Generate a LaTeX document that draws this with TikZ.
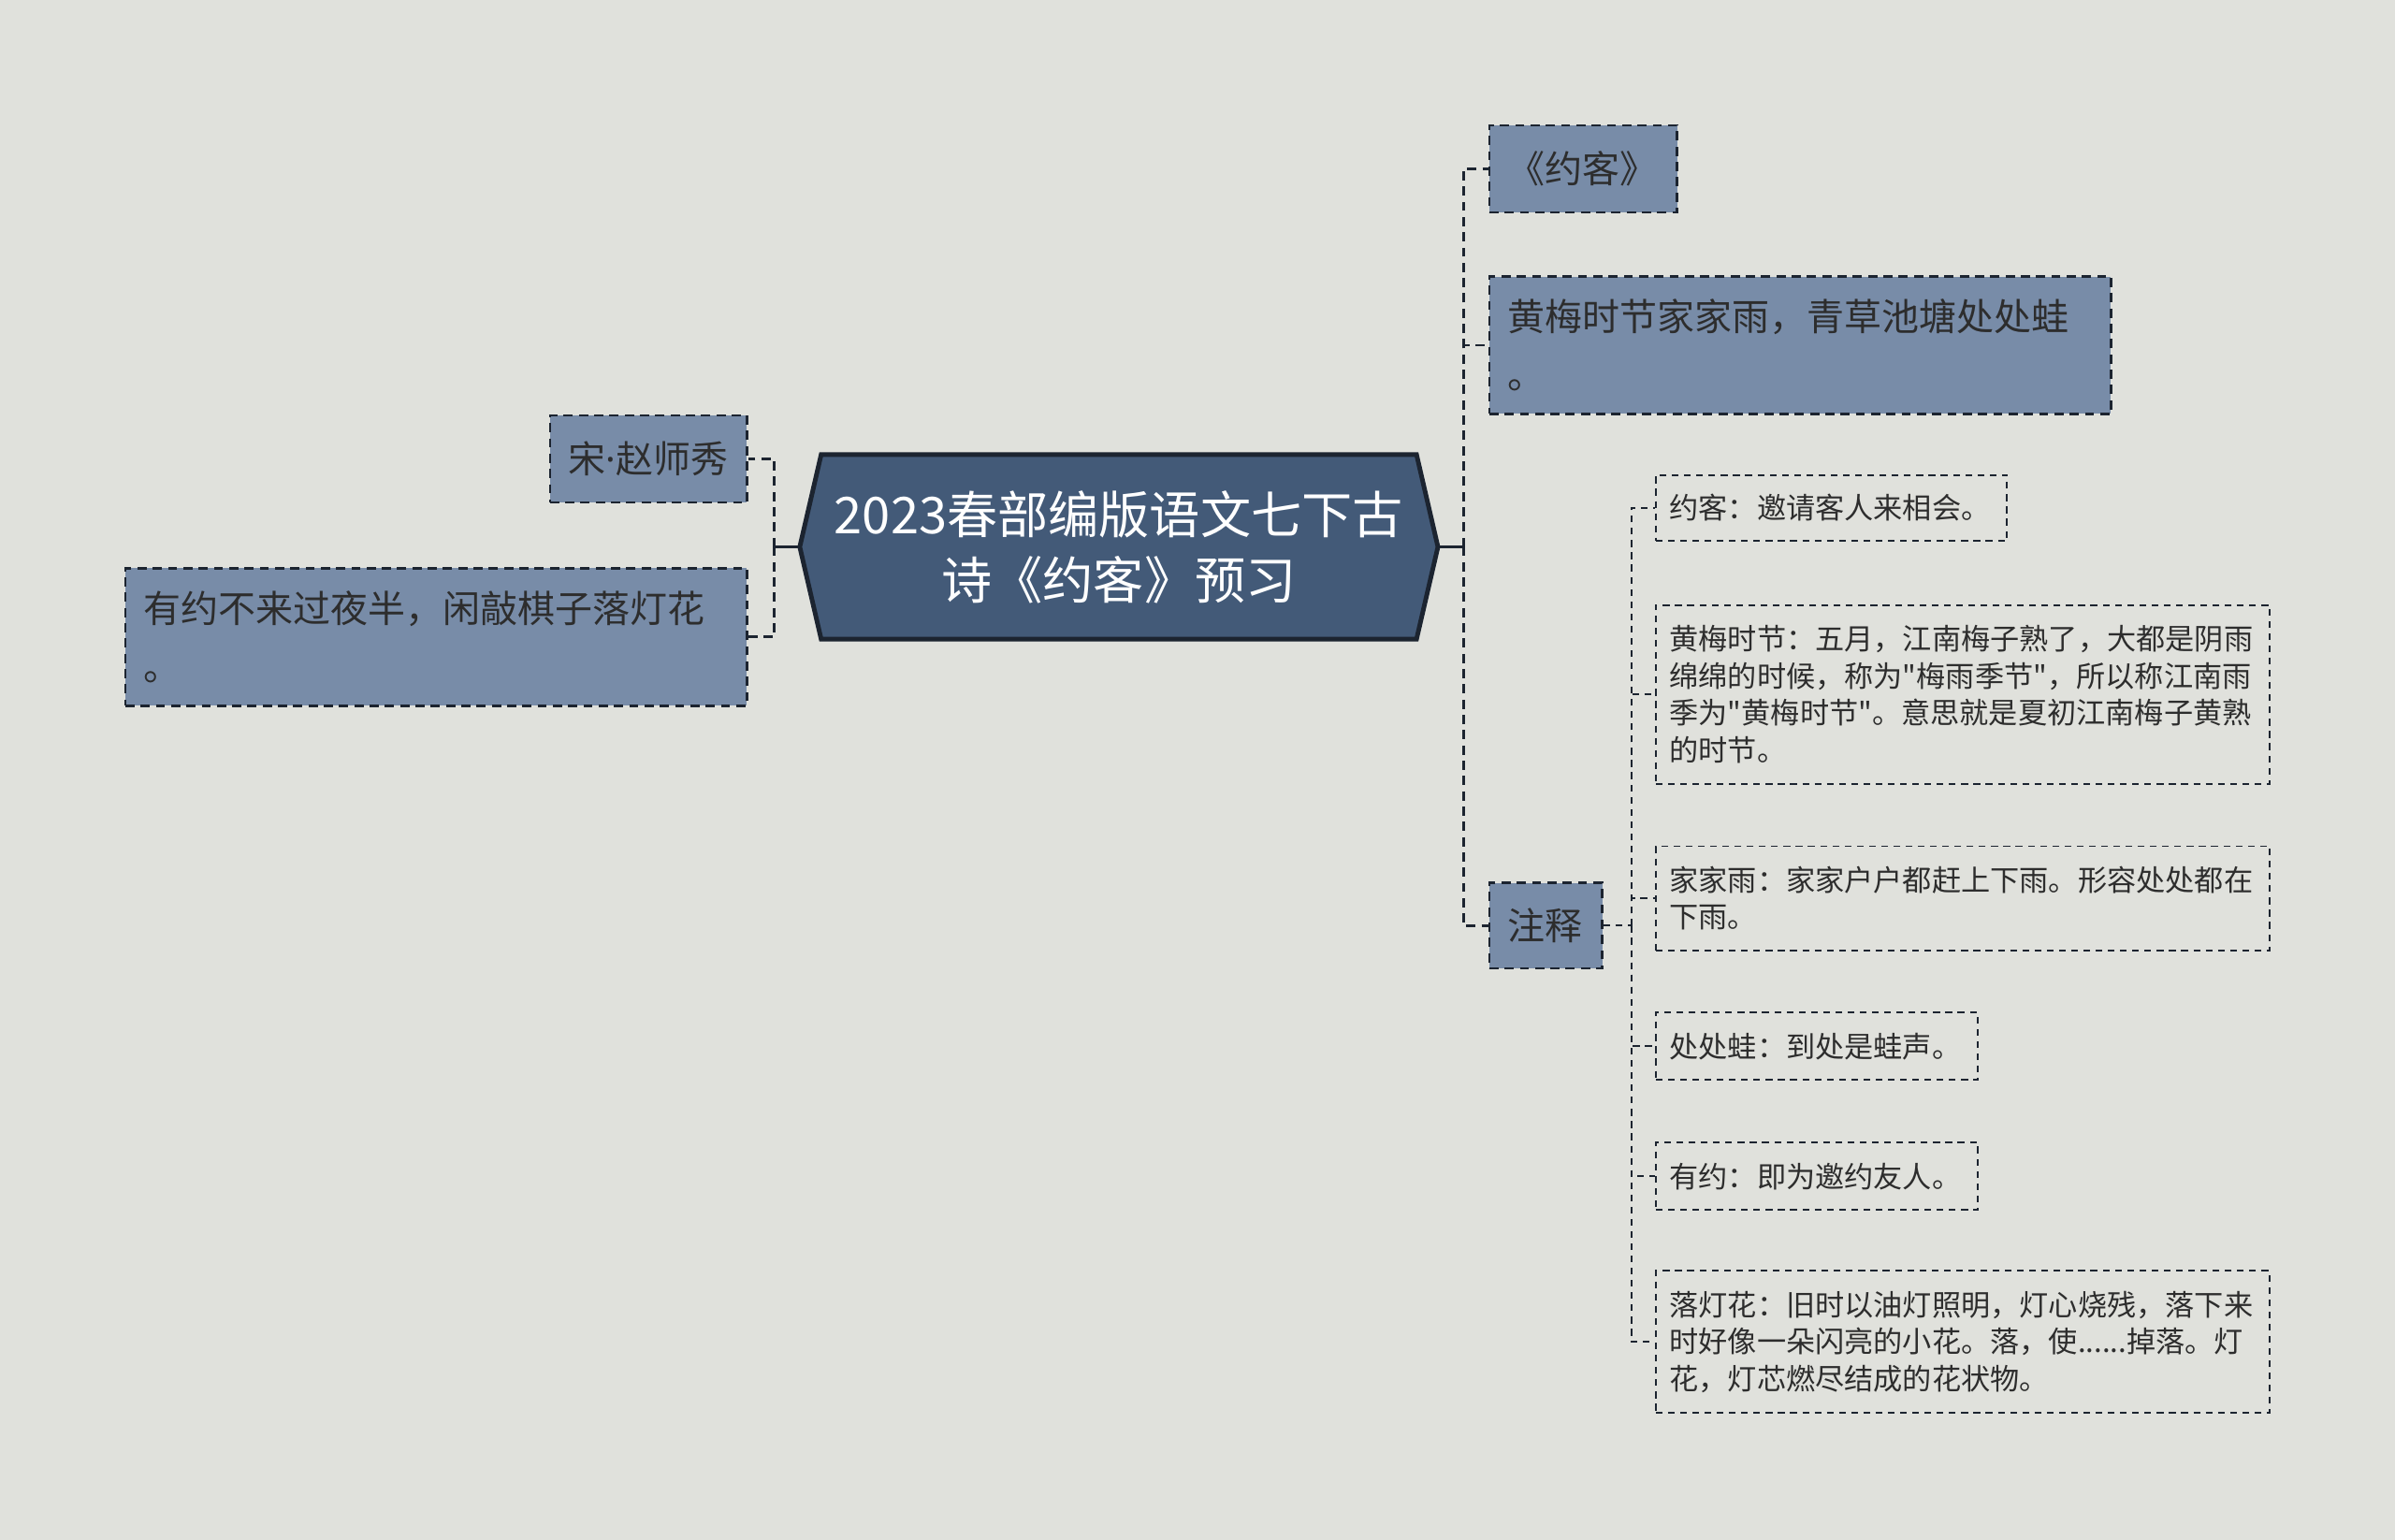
\documentclass[tikz,border=0pt]{standalone}
\usepackage{fontspec}
\setmainfont{Noto Sans CJK SC}[Ligatures=TeXOff]
\newfontfamily\latinfont{Noto Sans}
\usetikzlibrary{calc}
\definecolor{bgc}{RGB}{224,225,220}
\definecolor{boxc}{RGB}{120,140,168}
\definecolor{hubc}{RGB}{67,90,120}
\definecolor{linec}{RGB}{28,36,48}
\definecolor{txtc}{RGB}{45,45,45}
\pgfdeclarelayer{bglayer}
\pgfdeclarelayer{hexlayer}
\pgfsetlayers{bglayer,hexlayer,main}
\tikzset{
  mainbox/.style={draw=linec, fill=boxc, line width=0.75pt, dash pattern=on 3pt off 2pt,
    inner xsep=6pt, inner ysep=0pt, font=\fontsize{12.25}{19}\selectfont, text=txtc, align=left},
  notebox/.style={draw=linec, line width=0.6pt, dash pattern=on 2.2pt off 1.8pt,
    inner xsep=4.5pt, inner ysep=0pt, font=\fontsize{9.55}{12.15}\selectfont, text=txtc, align=left},
  link/.style={draw=linec, line width=0.9pt, dash pattern=on 3pt off 2pt},
  sublink/.style={draw=linec, line width=0.6pt, dash pattern=on 2.2pt off 1.8pt},
  solidlink/.style={draw=linec, line width=1pt},
}
\begin{document}
\begin{tikzpicture}[x=0.5pt, y=-0.5pt]
\useasboundingbox (0,0) rectangle (1568,1008);
\begin{pgfonlayer}{bglayer}
  \fill[bgc] (0,0) rectangle (1568,1008);
\end{pgfonlayer}

% central node
\node[minimum width=208.5pt, minimum height=60pt, inner sep=0pt, text=white,
      font=\fontsize{16.6}{21.5}\selectfont, align=center] (hub) at (732.5,358)
  {2023春部编版语文七下古\\诗《约客》预习};
\begin{pgfonlayer}{hexlayer}
  \filldraw[fill=hubc, draw=linec, line width=1.5pt, line join=miter]
    (hub.west) -- ([xshift=7pt]hub.north west) -- ([xshift=-7pt]hub.north east)
    -- (hub.east) -- ([xshift=-7pt]hub.south east) -- ([xshift=7pt]hub.south west) -- cycle;
\end{pgfonlayer}

% left side
\node[mainbox, text width=52.5pt, minimum height=28.5pt] (song) at (424.5,300.5) {宋{\latinfont ·}赵师秀};
\node[mainbox, text width=191.5pt, minimum height=45pt] (poemL) at (285.5,417) {有约不来过夜半，闲敲棋子落灯花\\。};

% right side
\node[mainbox, text width=49.5pt, minimum height=28.5pt] (yueke) at (1036.5,110.5) {《约客》};
\node[mainbox, text width=191.5pt, minimum height=45pt] (poemR) at (1178.5,226) {黄梅时节家家雨，青草池塘处处蛙\\。};
\node[mainbox, text width=25pt, minimum height=28pt] (zs) at (1012,606) {注释};

% notes
\node[notebox, text width=106pt, minimum height=21.5pt] (c1) at (1199,332.5) {约客：邀请客人来相会。};
\node[notebox, text width=192pt, minimum height=58.5pt] (c2) at (1285,454.5)
  {黄梅时节：五月，江南梅子熟了，大都是阴雨\\绵绵的时候，称为"梅雨季节"，所以称江南雨\\季为"黄梅时节"。意思就是夏初江南梅子黄熟\\的时节。};
\node[notebox, text width=192pt, minimum height=34pt] (c3) at (1285,588)
  {家家雨：家家户户都赶上下雨。形容处处都在\\下雨。};
\node[notebox, text width=96.5pt, minimum height=22pt] (c4) at (1189.5,685) {处处蛙：到处是蛙声。};
\node[notebox, text width=96.5pt, minimum height=22pt] (c5) at (1189.5,770) {有约：即为邀约友人。};
\node[notebox, text width=192pt, minimum height=46.5pt] (c6) at (1285,878.5)
  {落灯花：旧时以油灯照明，灯心烧残，落下来\\时好像一朵闪亮的小花。落，使......掉落。灯\\花，灯芯燃尽结成的花状物。};

% connectors
\coordinate (lj) at (507,358);
\coordinate (rj) at (958,358);
\coordinate (zj) at (1068,606);
\draw[solidlink] (hub.west) -- (lj);
\draw[link] (lj) |- (song.east);
\draw[link] (lj) |- (poemL.east);
\draw[solidlink] (hub.east) -- (rj);
\draw[link] (rj) |- (yueke.west);
\draw[link] (rj) |- (poemR.west);
\draw[link] (rj) |- (zs.west);
\draw[sublink] (zs.east) -- (zj);
\draw[sublink] (zj) |- (c1.west);
\draw[sublink] (zj) |- (c2.west);
\draw[sublink] (zj) |- (c3.west);
\draw[sublink] (zj) |- (c4.west);
\draw[sublink] (zj) |- (c5.west);
\draw[sublink] (zj) |- (c6.west);
\end{tikzpicture}
\end{document}
